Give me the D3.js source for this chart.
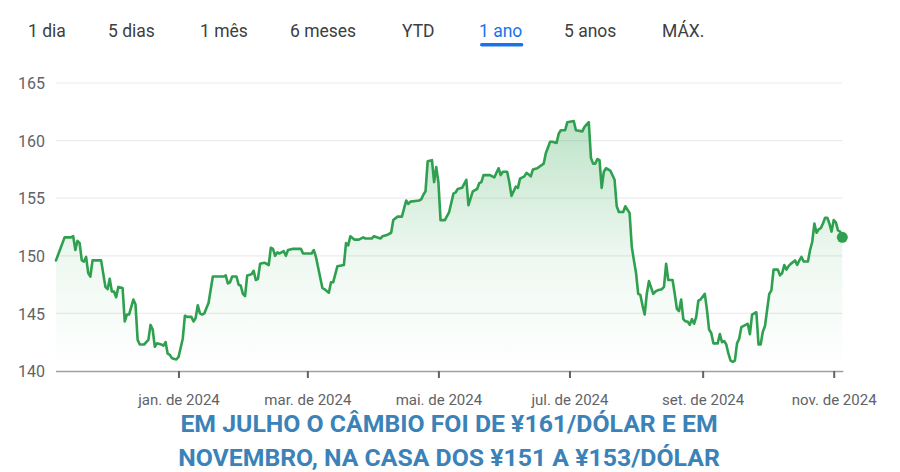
<!DOCTYPE html>
<html>
<head>
<meta charset="utf-8">
<script src="https://cdn.jsdelivr.net/npm/d3@7"></script>
<style>
  html, body { margin: 0; padding: 0; background: #ffffff; }
  svg { display: block; font-family: Roboto, "Noto Sans", Arial, sans-serif; }
</style>
</head>
<body>
<svg id="chart" width="900" height="472"></svg>
<script>
// ---- data ----
const tabs = ["1 dia", "5 dias", "1 mês", "6 meses", "YTD", "1 ano", "5 anos", "MÁX."];
const activeTab = "1 ano";

const dates = [
"2023-11-05","2023-11-09","2023-11-12","2023-11-13","2023-11-14","2023-11-15","2023-11-16","2023-11-17","2023-11-18","2023-11-19",
"2023-11-20","2023-11-21","2023-11-22","2023-11-24","2023-11-26","2023-11-28","2023-11-29","2023-11-30","2023-12-01","2023-12-02",
"2023-12-03","2023-12-04","2023-12-06","2023-12-07","2023-12-08","2023-12-09","2023-12-11","2023-12-12","2023-12-13","2023-12-14",
"2023-12-16","2023-12-18","2023-12-19","2023-12-20","2023-12-21","2023-12-22","2023-12-24","2023-12-25","2023-12-26","2023-12-27",
"2023-12-28","2023-12-29","2023-12-31","2024-01-01","2024-01-03","2024-01-04","2024-01-05","2024-01-07","2024-01-08","2024-01-09",
"2024-01-10","2024-01-11","2024-01-12","2024-01-13","2024-01-15","2024-01-17","2024-01-18","2024-01-22","2024-01-23","2024-01-24",
"2024-01-25","2024-01-26","2024-01-28","2024-01-29","2024-01-30","2024-01-31","2024-02-01","2024-02-02","2024-02-04","2024-02-05",
"2024-02-06","2024-02-07","2024-02-08","2024-02-10","2024-02-12","2024-02-13","2024-02-14","2024-02-15","2024-02-16","2024-02-17",
"2024-02-19","2024-02-20","2024-02-21","2024-02-23","2024-02-26","2024-02-27","2024-02-28","2024-03-03","2024-03-04","2024-03-05",
"2024-03-08","2024-03-09","2024-03-11","2024-03-12","2024-03-13","2024-03-15","2024-03-18","2024-03-19","2024-03-20","2024-03-21",
"2024-03-23","2024-03-25","2024-03-27","2024-03-28","2024-03-31","2024-04-01","2024-04-04","2024-04-05","2024-04-07","2024-04-09",
"2024-04-10","2024-04-12","2024-04-14","2024-04-15","2024-04-16","2024-04-17","2024-04-18","2024-04-22","2024-04-23","2024-04-24",
"2024-04-25","2024-04-26","2024-04-28","2024-04-29","2024-04-30","2024-05-01","2024-05-02","2024-05-04","2024-05-06","2024-05-08",
"2024-05-09","2024-05-10","2024-05-12","2024-05-14","2024-05-15","2024-05-17","2024-05-19","2024-05-20","2024-05-21","2024-05-22",
"2024-05-25","2024-05-27","2024-05-29","2024-05-30","2024-05-31","2024-06-02","2024-06-03","2024-06-04","2024-06-06","2024-06-07",
"2024-06-08","2024-06-10","2024-06-11","2024-06-13","2024-06-14","2024-06-16","2024-06-19","2024-06-20","2024-06-22","2024-06-23",
"2024-06-25","2024-06-26","2024-06-27","2024-06-29","2024-06-30","2024-07-03","2024-07-04","2024-07-07","2024-07-08","2024-07-10",
"2024-07-11","2024-07-12","2024-07-13","2024-07-14","2024-07-15","2024-07-16","2024-07-17","2024-07-18","2024-07-20","2024-07-22",
"2024-07-23","2024-07-24","2024-07-26","2024-07-27","2024-07-29","2024-07-30","2024-07-31","2024-08-01","2024-08-02","2024-08-03",
"2024-08-04","2024-08-05","2024-08-06","2024-08-07","2024-08-09","2024-08-10","2024-08-11","2024-08-13","2024-08-14","2024-08-15",
"2024-08-16","2024-08-18","2024-08-19","2024-08-20","2024-08-21","2024-08-22","2024-08-23","2024-08-24","2024-08-25","2024-08-26",
"2024-08-27","2024-08-28","2024-08-29","2024-08-30","2024-08-31","2024-09-02","2024-09-03","2024-09-04","2024-09-05","2024-09-06",
"2024-09-08","2024-09-09","2024-09-10","2024-09-11","2024-09-12","2024-09-13","2024-09-14","2024-09-15","2024-09-16","2024-09-17",
"2024-09-18","2024-09-19","2024-09-21","2024-09-22","2024-09-23","2024-09-24","2024-09-26","2024-09-27","2024-09-28","2024-09-29",
"2024-09-30","2024-10-02","2024-10-03","2024-10-04","2024-10-06","2024-10-07","2024-10-08","2024-10-09","2024-10-10","2024-10-11",
"2024-10-12","2024-10-14","2024-10-15","2024-10-16","2024-10-17","2024-10-18","2024-10-20","2024-10-21","2024-10-22","2024-10-23",
"2024-10-24","2024-10-25","2024-10-26","2024-10-27","2024-10-28","2024-10-29","2024-10-30","2024-10-31","2024-11-01","2024-11-02",
"2024-11-03","2024-11-04","2024-11-05"
];

const values = [
149.6,151.6,151.6,151.7,150.5,151.3,151.1,149.6,149.5,149.9,
148.5,148.2,149.6,149.6,149.6,147.3,147.1,148.0,146.9,146.9,
146.4,147.3,147.2,144.3,144.9,144.9,146.2,145.8,142.7,142.3,
142.3,142.7,144.0,143.6,142.1,142.4,142.3,142.2,142.5,141.5,
141.4,141.1,141.0,141.2,142.8,144.8,144.7,144.7,144.3,144.6,
145.7,145.0,144.9,145.0,145.9,148.2,148.2,148.2,148.3,147.6,
147.7,148.2,148.2,147.5,147.4,146.7,146.5,148.3,148.4,148.7,
147.9,148.0,149.3,149.4,149.2,150.7,150.6,150.0,150.3,150.2,
150.4,150.0,150.5,150.6,150.6,150.6,150.2,150.2,150.5,149.9,
147.2,147.1,146.8,147.7,147.7,149.1,149.2,151.1,150.9,151.7,
151.4,151.4,151.6,151.5,151.5,151.7,151.5,151.7,151.8,152.0,
153.1,153.4,153.4,154.1,154.8,154.5,154.7,154.8,154.9,155.3,
155.6,158.2,158.3,156.4,157.7,156.4,153.1,153.1,153.8,155.4,
155.5,155.8,155.9,156.6,154.4,155.6,155.8,156.3,156.4,157.0,
157.0,156.8,157.6,157.0,157.3,157.3,156.4,155.2,156.0,155.9,
156.7,156.9,157.2,156.9,157.5,157.6,158.0,158.9,159.9,159.9,
159.8,160.6,160.9,160.9,161.6,161.7,160.9,160.8,161.2,161.6,
158.5,158.0,158.0,158.4,158.3,155.9,157.3,157.6,157.4,156.6,
154.3,153.8,153.8,154.3,153.7,150.8,149.6,148.5,146.7,146.6,
145.7,144.9,146.7,147.8,146.7,146.9,147.0,147.1,147.3,149.3,
147.9,147.9,146.7,145.4,145.2,146.2,144.5,144.3,144.3,144.0,
144.5,144.1,144.7,146.1,146.2,146.7,145.3,143.6,143.3,142.4,
142.4,143.2,142.5,142.6,142.3,141.5,140.9,140.8,140.9,142.4,
142.8,143.8,144.0,144.1,143.2,144.9,145.1,142.3,142.3,143.4,
143.9,146.7,147.0,148.8,148.8,148.3,148.5,149.2,148.8,149.1,
149.3,149.6,149.2,149.6,149.9,149.5,149.5,150.5,151.2,152.8,
152.0,152.3,152.4,152.8,153.3,153.3,152.8,152.1,153.1,152.9,
152.2,152.1,151.6
];

const yTicks = [140, 145, 150, 155, 160, 165];
const xTickDates = ["2024-01-01", "2024-03-01", "2024-05-01", "2024-07-01", "2024-09-01", "2024-11-01"];
const xTickLabels = ["jan. de 2024", "mar. de 2024", "mai. de 2024", "jul. de 2024", "set. de 2024", "nov. de 2024"];
const xDomain = ["2023-11-05", "2024-11-05"];

const captionLines = [
  "EM JULHO O CÂMBIO FOI DE ¥161/DÓLAR E EM",
  "NOVEMBRO, NA CASA DOS ¥151 A ¥153/DÓLAR"
];

// ---- drawing ----
const parse = d3.utcParse("%Y-%m-%d");
const data = dates.map((d, i) => ({ date: parse(d), value: values[i] }));

const svg = d3.select("#chart");
const plotLeft = 56, plotRight = 842.3, plotTop = 83, plotBottom = 371;

const x = d3.scaleUtc().domain(xDomain.map(parse)).range([plotLeft, plotRight]);
const y = d3.scaleLinear().domain([140, 165]).range([plotBottom, plotTop]);

// tabs
const tabX = [28, 108, 200, 290, 402, 479, 564, 662];
const tabG = svg.append("g");
tabs.forEach((t, i) => {
  const txt = tabG.append("text")
    .attr("x", tabX[i]).attr("y", 37)
    .attr("font-size", 17.5)
    .attr("fill", t === activeTab ? "#1a73e8" : "#3c4043")
    .text(t);
  if (t === activeTab) {
    const w = txt.node().getComputedTextLength();
    tabG.append("rect")
      .attr("x", tabX[i] + 1).attr("y", 43)
      .attr("width", w).attr("height", 3.5)
      .attr("rx", 1.75)
      .attr("fill", "#1a73e8");
  }
});

// gridlines
svg.append("g")
  .selectAll("line")
  .data(yTicks.filter(v => v !== 140))
  .join("line")
  .attr("x1", plotLeft).attr("x2", plotRight)
  .attr("y1", d => y(d)).attr("y2", d => y(d))
  .attr("stroke", "#ececec").attr("stroke-width", 1.2);

// y axis labels
const yAxis = d3.axisLeft(y).tickValues(yTicks).tickSize(0).tickFormat(d3.format("d"));
const yg = svg.append("g").attr("transform", `translate(${plotLeft},0)`).call(yAxis);
yg.select(".domain").remove();
yg.selectAll("text")
  .attr("x", 18 - plotLeft).attr("text-anchor", "start")
  .attr("dy", "0.35em")
  .attr("font-size", 16).attr("font-family", "Roboto, sans-serif")
  .attr("fill", "#5f6368");

// gradient
const defs = svg.append("defs");
const grad = defs.append("linearGradient")
  .attr("id", "fillGrad")
  .attr("gradientUnits", "userSpaceOnUse")
  .attr("x1", 0).attr("x2", 0)
  .attr("y1", y(d3.max(values))).attr("y2", plotBottom);
grad.append("stop").attr("offset", "0%").attr("stop-color", "#34a853").attr("stop-opacity", 0.32);
grad.append("stop").attr("offset", "55%").attr("stop-color", "#34a853").attr("stop-opacity", 0.08);
grad.append("stop").attr("offset", "100%").attr("stop-color", "#34a853").attr("stop-opacity", 0.0);

const area = d3.area().x(d => x(d.date)).y0(plotBottom).y1(d => y(d.value));
svg.append("path").datum(data).attr("d", area).attr("fill", "url(#fillGrad)");

// x axis
const xAxis = d3.axisBottom(x)
  .tickValues(xTickDates.map(parse))
  .tickSize(7)
  .tickFormat((d, i) => xTickLabels[i]);
const xg = svg.append("g").attr("transform", `translate(0,${plotBottom})`).call(xAxis);
xg.select(".domain")
  .attr("d", `M${plotLeft},0.5H${plotRight + 1}`)
  .attr("stroke", "#9aa0a6").attr("stroke-width", 1.5);
xg.selectAll(".tick line").attr("stroke", "#5f6368").attr("stroke-width", 2);
xg.selectAll(".tick text")
  .attr("y", 23)
  .attr("font-size", 15).attr("font-family", "Roboto, sans-serif")
  .attr("fill", "#5f6368");

// line
const line = d3.line().x(d => x(d.date)).y(d => y(d.value));
svg.append("path").datum(data)
  .attr("d", line)
  .attr("fill", "none")
  .attr("stroke", "#2fa04f")
  .attr("stroke-width", 2.6)
  .attr("stroke-linejoin", "round")
  .attr("stroke-linecap", "round");

// end dot
const last = data[data.length - 1];
svg.append("circle")
  .attr("cx", x(last.date)).attr("cy", y(last.value))
  .attr("r", 5.5).attr("fill", "#2fa04f");

// caption
svg.append("g").selectAll("text")
  .data(captionLines)
  .join("text")
  .attr("x", 449).attr("y", (d, i) => 432 + i * 34)
  .attr("text-anchor", "middle")
  .attr("font-size", 24.8).attr("font-weight", 700)
  .attr("font-family", "Roboto, sans-serif")
  .attr("fill", "#3b82b8")
  .text(d => d);
</script>
</body>
</html>
